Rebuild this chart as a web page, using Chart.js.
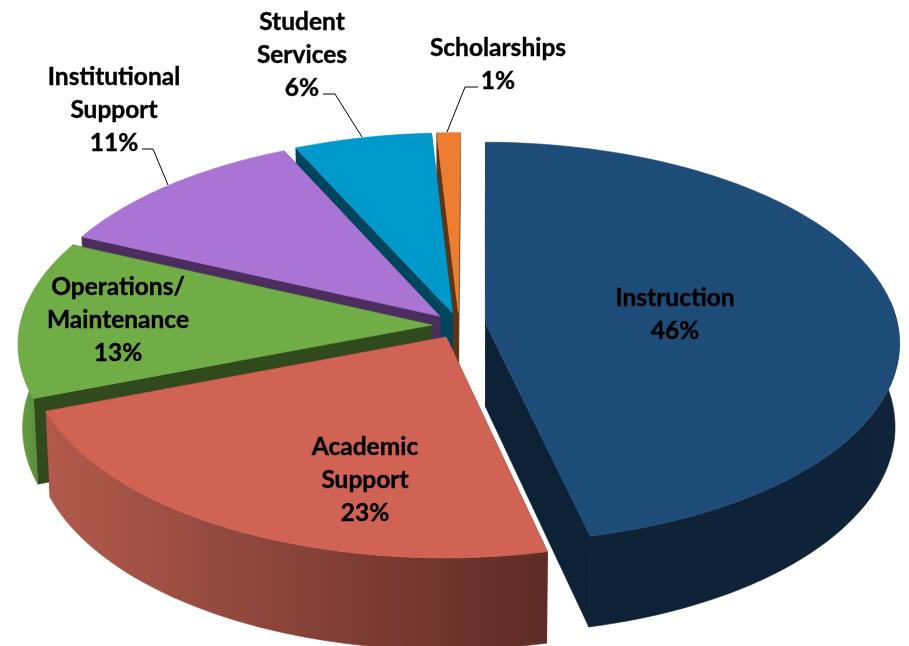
<!DOCTYPE html>
<html lang="en">
<head>
    <meta charset="utf-8">
    <title>Expenditures by Function</title>
    <script src="https://cdn.jsdelivr.net/npm/chart.js"></script>
    <style>
        html, body { margin: 0; padding: 0; background: #ffffff; }
        #chartCanvas { display: block; }
    </style>
</head>
<body>
    <canvas id="chartCanvas" width="909" height="646"></canvas>
    <script>
        // chart data
        const categories = ['Instruction', 'Academic Support', 'Operations/ Maintenance', 'Institutional Support', 'Student Services', 'Scholarships'];
        const shares = [46.3, 22.8, 12.7, 11.3, 5.9, 1];  // printed labels are rounded

        // colours per slice: top face, cut side, rim at left, rim at right
        const topColors = ['#1E4C78', '#D16354', '#70AD47', '#A974D3', '#0099CC', '#ED7D31'];
        const sideColors = ['#0E2236', '#5E2B26', '#304A1E', '#4C2E5E', '#00455E', '#5E3415'];
        const rimLeft = ['#0E2236', '#B25A4C', '#6AA044', '#4C2E5E', '#00455E', '#5E3415'];
        const rimRight = ['#0F2439', '#5E2B26', '#5A8C3A', '#4C2E5E', '#00455E', '#5E3415'];

        // text lines and where they sit
        const labelLines = [['Instruction', '46%'], ['Academic', 'Support', '23%'], ['Operations/', 'Maintenance', '13%'], ['Institutional', 'Support', '11%'], ['Student', 'Services', '6%'], ['Scholarships', '1%']];
        const labelX = [675, 365, 118, 114, 302, 498];
        const labelY = [298, 447, 287, 77, 22, 48];
        const labelStep = 33;
        const leaders = [null, null, null, [[142, 149], [153, 149], [168, 185]], [[323, 94], [335, 94], [362, 137]], [[478, 87], [465, 87], [447, 132]]];

        // tilt of the plate
        const squash = 0.482;
        const perspective = 0.00022;
        const thickness = 83;
        const drawOrder = [5, 4, 3, 2, 0, 1];  // back slices first

        function fillPoly(ctx, pts, color) {
            ctx.beginPath();
            pts.forEach((p, i) => i ? ctx.lineTo(p.x, p.y) : ctx.moveTo(p.x, p.y));
            ctx.closePath();
            ctx.fillStyle = color;
            ctx.strokeStyle = color;
            ctx.lineWidth = 0.6;
            ctx.fill();
            ctx.stroke();
        }

        // takes the arc elements Chart.js laid out and draws them as a thick tilted plate
        const plate3d = {
            id: 'plate3d',
            beforeDatasetDraw(chart) {
                const ctx = chart.ctx;
                const arcs = chart.getDatasetMeta(0).data;

                drawOrder.forEach(i => {
                    const arc = arcs[i];
                    const mid = (arc.startAngle + arc.endAngle) / 2;
                    const ox = Math.cos(mid) * arc.options.offset;
                    const oy = Math.sin(mid) * arc.options.offset;

                    const top = (u, v) => {
                        const s = 1 / (1 - perspective * v);
                        return { x: arc.x + u * s, y: arc.y + v * squash * s };
                    };
                    const bottom = (u, v) => {
                        const s = 1 / (1 - perspective * v);
                        return { x: arc.x + u * s * 0.99, y: arc.y + v * squash * s + thickness * s };
                    };
                    const rimPoint = (a, f) => f(ox + Math.cos(a) * arc.outerRadius, oy + Math.sin(a) * arc.outerRadius);

                    // the two cut sides
                    [arc.startAngle, arc.endAngle].forEach(a => {
                        fillPoly(ctx, [top(ox, oy), rimPoint(a, top), rimPoint(a, bottom), bottom(ox, oy)], sideColors[i]);
                    });

                    // rim, only the part facing us
                    const steps = 90;
                    const span = arc.endAngle - arc.startAngle;
                    const rimTop = [], rimBottom = [];
                    for (let n = 0; n <= steps; n++) {
                        const a = arc.startAngle + span * n / steps;
                        if (Math.sin(a) < -0.12) continue;
                        rimTop.push(rimPoint(a, top));
                        rimBottom.push(rimPoint(a, bottom));
                    }
                    if (rimTop.length > 1) {
                        const xs = rimTop.concat(rimBottom).map(p => p.x);
                        const shade = ctx.createLinearGradient(Math.min(...xs), 0, Math.max(...xs), 0);
                        shade.addColorStop(0, rimLeft[i]);
                        shade.addColorStop(1, rimRight[i]);
                        fillPoly(ctx, rimTop.concat(rimBottom.reverse()), shade);
                    }

                    // top face
                    const face = [top(ox, oy)];
                    for (let n = 0; n <= steps; n++) face.push(rimPoint(arc.startAngle + span * n / steps, top));
                    fillPoly(ctx, face, topColors[i]);
                });
                return false;  // arcs already painted
            },
            afterDraw(chart) {
                const ctx = chart.ctx;
                ctx.save();
                ctx.fillStyle = '#000000';
                ctx.strokeStyle = '#000000';
                ctx.font = 'bold 24.5px Lato';
                ctx.textAlign = 'center';
                ctx.textBaseline = 'middle';
                ctx.lineWidth = 0.4;
                labelLines.forEach((lines, i) => {
                    lines.forEach((line, n) => {
                        ctx.fillText(line, labelX[i], labelY[i] + n * labelStep);
                        ctx.strokeText(line, labelX[i], labelY[i] + n * labelStep);
                    });
                });
                ctx.lineWidth = 1;
                leaders.forEach(pts => {
                    if (!pts) return;
                    ctx.beginPath();
                    pts.forEach((p, n) => n ? ctx.lineTo(p[0], p[1]) : ctx.moveTo(p[0], p[1]));
                    ctx.stroke();
                });
                ctx.restore();
            }
        };

        new Chart(document.getElementById('chartCanvas').getContext('2d'), {
            type: 'pie',
            data: {
                labels: categories,
                datasets: [{
                    data: shares,
                    backgroundColor: topColors,
                    borderWidth: 0,
                    offset: 27
                }]
            },
            options: {
                responsive: false,
                animation: false,
                radius: 412,
                rotation: 0.3,
                layout: { padding: { left: 9, top: 5 } },
                plugins: { legend: { display: false }, tooltip: { enabled: false } }
            },
            plugins: [plate3d]
        });
    </script>
</body>
</html>
